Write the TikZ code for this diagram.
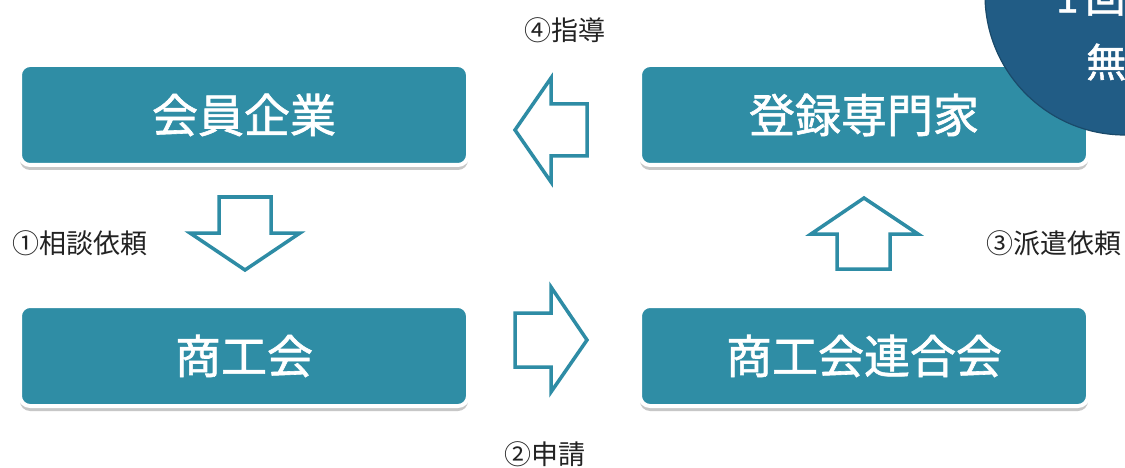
\documentclass[tikz,border=0pt]{standalone}
\usepackage{fontspec}
\newfontfamily\jp{Noto Sans CJK JP}
\newfontfamily\jpb[FakeBold=1.3]{Noto Sans CJK JP}
\usetikzlibrary{shadows}
\definecolor{tealbox}{HTML}{2F8DA5}
\definecolor{navycirc}{HTML}{215C85}
\definecolor{arrcol}{HTML}{2E8CA5}
\definecolor{labcol}{HTML}{222222}
\tikzset{
  box/.style={rounded corners=10pt, fill=tealbox, draw=white, line width=4pt,
    minimum width=448pt, minimum height=100pt, inner sep=0pt, text=white,
    font=\jpb\fontsize{46}{46}\selectfont,
    drop shadow={shadow xshift=0pt, shadow yshift=-5pt, fill=black!22, opacity=1}},
  blockarrow/.style={draw=arrcol, fill=white, line width=3.5pt, line join=miter},
  lab/.style={text=labcol, font=\jp\fontsize{27}{27}\selectfont, inner sep=0pt},
  circtext/.style={text=white, font=\jpb\fontsize{40}{40}\selectfont, inner sep=0pt}
}
\begin{document}
\begin{tikzpicture}[x=1pt,y=-1pt]
\clip (0,0) rectangle (1125,468);
\fill[white] (0,0) rectangle (1125,468);

\node[box] (kaiin) at (244,115) {会員企業};
\node[box] (senmon) at (864,115) {登録専門家};
\node[box] (shoko) at (244,356) {商工会};
\node[box] (rengo) at (864,356) {商工会連合会};

\fill[navycirc, draw=navycirc!80!black, line width=1.2pt] (1125,-5) circle (140);
\node[circtext, anchor=west] (c1) at (1056,-2) {1\kern7pt 回};
\node[circtext, anchor=west] (c2) at (1086,62) {無};

% block arrows
\draw[blockarrow] (515,130) -- (551,78) -- (551,104) -- (587,104) -- (587,156) -- (551,156) -- (551,182) -- cycle;
\draw[blockarrow] (245,270) -- (190,233) -- (219,233) -- (219,197) -- (271,197) -- (271,233) -- (300,233) -- cycle;
\draw[blockarrow] (864,198) -- (811,234) -- (837,234) -- (837,269) -- (890,269) -- (890,234) -- (918,234) -- cycle;
\draw[blockarrow] (587,340) -- (551,287) -- (551,313) -- (515,313) -- (515,367) -- (551,367) -- (551,392) -- cycle;

\node[lab] (l4) at (565,30) {④指導};
\node[lab] (l2) at (545,454) {②申請};
\node[lab] (l1) at (80,243) {①相談依頼};
\node[lab] (l3) at (1054,243) {③派遣依頼};
\end{tikzpicture}
\end{document}
